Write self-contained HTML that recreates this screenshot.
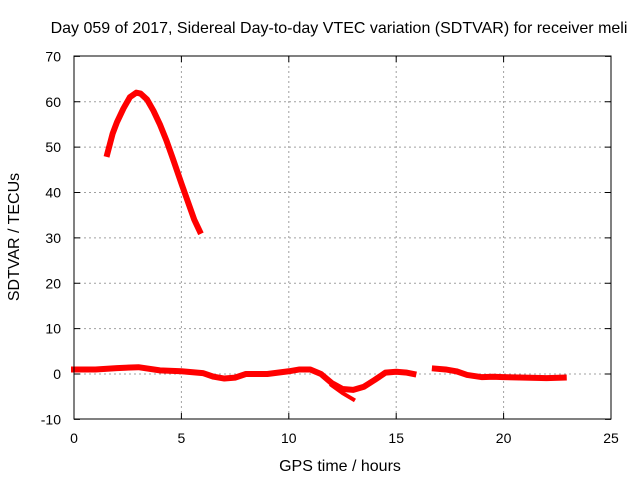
<!DOCTYPE html>
<html><head><meta charset="utf-8"><style>
body{margin:0;background:#fff}
svg text{font-family:"Liberation Sans",sans-serif;font-size:14px;fill:#000}
svg text.big{font-size:16px}
</style></head><body>
<svg width="640" height="480" id="c">
<text class="big" x="339" y="33" text-anchor="middle">Day 059 of 2017, Sidereal Day-to-day VTEC variation (SDTVAR) for receiver meli</text>
<text class="big" x="340" y="471" text-anchor="middle">GPS time / hours</text>
<text class="big" transform="translate(19,237) rotate(-90)" text-anchor="middle">SDTVAR / TECUs</text>
<g id="grid"></g><g id="marks"></g>
<rect x="74" y="56" width="537" height="363" fill="none" stroke="#000" stroke-width="1"/>
</svg>
<script>
const xTicks=[0,5,10,15,20,25];
const yTicks=[-10,0,10,20,30,40,50,60,70];
const arcX=[1.55,1.8,2.0,2.3,2.6,2.9,3.1,3.4,3.7,4.0,4.3,4.6,5.0,5.3,5.6,5.85];
const arcY=[48.5,53,55.5,58.5,61,62,61.8,60.5,58,55,51.5,47.5,42,38,34,31.5];
const lowAX=[0,0.5,1,2,3,4,5,6,6.5,7,7.5,8,9,10,10.5,11,11.5,12,12.5,13,13.5,14,14.5,15,15.5,15.8];
const lowAY=[1,1,1,1.3,1.5,0.8,0.6,0.2,-0.6,-1,-0.8,0,0,0.6,1,1,0,-2,-3.3,-3.5,-2.8,-1.3,0.3,0.5,0.3,0];
const dipX=[12.0,12.5,13.0];
const dipY=[-2.5,-4.2,-5.6];
const lowBX=[16.8,17.3,17.8,18.3,19,19.5,20,21,22,22.8];
const lowBY=[1.2,1,0.6,-0.2,-0.7,-0.6,-0.7,-0.8,-0.9,-0.8];
const X=v=>74+v*(537/25), Y=v=>374-v*(363/80);
const NS='http://www.w3.org/2000/svg';
const g=document.getElementById('grid'), m=document.getElementById('marks');
function mk(t,a,p){const e=document.createElementNS(NS,t);for(const k in a)e.setAttribute(k,a[k]);p.appendChild(e);return e;}
xTicks.forEach(v=>{
 if(v>0&&v<25){const l=mk('line',{x1:X(v),x2:X(v),y1:56,y2:419,stroke:'#a0a0a0','stroke-dasharray':'2,3'},g);
 
 }
 mk('line',{x1:X(v),x2:X(v),y1:419,y2:413,stroke:'#000'},g);
 mk('line',{x1:X(v),x2:X(v),y1:56,y2:62,stroke:'#000'},g);
 const t=mk('text',{x:X(v),y:443,'text-anchor':'middle'},g);t.textContent=v;
 
 
});
yTicks.forEach(v=>{
 if(v>-10&&v<70){const l=mk('line',{x1:74,x2:611,y1:Y(v),y2:Y(v),stroke:'#a0a0a0','stroke-dasharray':'2,3'},g);
 
 }
 mk('line',{x1:74,x2:80,y1:Y(v),y2:Y(v),stroke:'#000'},g);
 mk('line',{x1:611,x2:605,y1:Y(v),y2:Y(v),stroke:'#000'},g);
 const t=mk('text',{x:61,y:Y(v)+5,'text-anchor':'end'},g);t.textContent=v;
 
 
});
function series(xs,ys,w,name){
 const p=mk('polyline',{points:xs.map((x,i)=>X(x)+','+Y(ys[i])).join(' '),fill:'none',stroke:'#f00','stroke-width':w,'stroke-linejoin':'round','stroke-linecap':'square'},m);
 
 
}
series(arcX,arcY,6,'series-arc');
series(lowAX,lowAY,6,'series-low-a');
series(dipX,dipY,4,'series-dip');
series(lowBX,lowBY,6,'series-low-b');
</script>
</body></html>
